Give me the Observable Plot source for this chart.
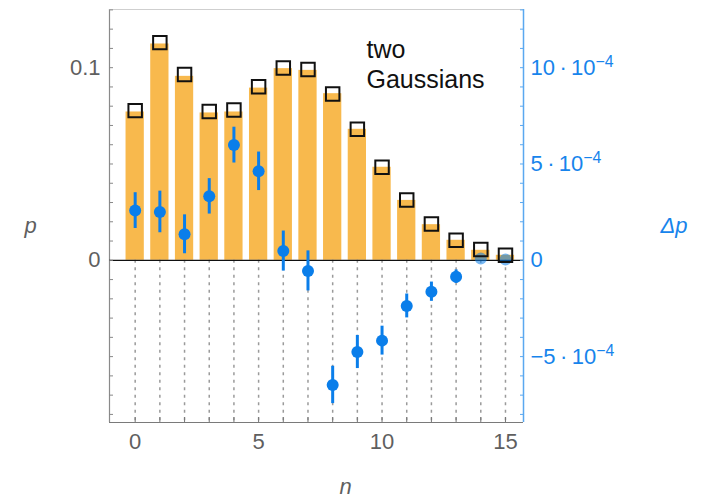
<!DOCTYPE html>
<html>
<head>
<meta charset="utf-8">
<script src="https://cdn.jsdelivr.net/npm/d3@7"></script>
<script src="https://cdn.jsdelivr.net/npm/@observablehq/plot@0.6"></script>
<style>
  html, body { margin: 0; padding: 0; background: #fff; }
  #chart svg { display: block; }
</style>
</head>
<body>
<div id="chart"></div>
<script>
// ---- data ----
const ns = [0, 1, 2, 3, 4, 5, 6, 7, 8, 9, 10, 11, 12, 13, 14, 15];
const pMeasured = [0.0770, 0.1123, 0.0955, 0.0765, 0.0770, 0.0894, 0.0995, 0.0986, 0.0865, 0.0680, 0.0483, 0.0311, 0.0185, 0.0104, 0.0052, 0.0026];
const pModel = [0.0777, 0.1130, 0.0965, 0.0772, 0.0780, 0.0901, 0.0998, 0.0991, 0.0863, 0.0680, 0.0483, 0.0313, 0.0188, 0.0104, 0.0056, 0.0026];
const deltaP = [2.58e-4, 2.51e-4, 1.35e-4, 3.32e-4, 5.98e-4, 4.62e-4, 0.48e-4, -0.55e-4, -6.47e-4, -4.76e-4, -4.17e-4, -2.37e-4, -1.63e-4, -0.85e-4, 0.09e-4, 0.04e-4];
const deltaPErr = [0.93e-4, 1.08e-4, 1.01e-4, 0.92e-4, 0.93e-4, 1.00e-4, 1.04e-4, 1.04e-4, 0.97e-4, 0.86e-4, 0.75e-4, 0.62e-4, 0.50e-4, 0.35e-4, 0, 0];
const xTicks = [0, 5, 10, 15];
const pTicks = [0, 0.1];
const pTickLabels = ["0", "0.1"];
const dpTicks = [-5e-4, 0, 5e-4, 10e-4];
const dpTickLabels = ["\u22125\u2009\u00b7\u200910^\u22124", "0", "5\u2009\u00b7\u200910^\u22124", "10\u2009\u00b7\u200910^\u22124"];
const xDomain = [-1.04, 15.73];
const yDomain = [-0.0842, 0.1302];
const dpFactor = 100; // Δp axis = p axis × 0.01
const annotation = "two\nGaussians";

const rows = ns.map((n, i) => ({n, p: pMeasured[i], m: pModel[i], dp: deltaP[i], err: deltaPErr[i]}));
const minorP = d3.range(-8, 14).map(k => k / 100);

const orange = "#F8B94D";
const blue = "#0A7EEA";
const axisBlue = "#5AA8F0";
const gray = "#5f5f5f";
const font = "Liberation Sans, Arial, Helvetica, sans-serif";

const chart = Plot.plot({
  width: 702,
  height: 498,
  marginLeft: 109,
  marginRight: 179,
  marginTop: 9,
  marginBottom: 76,
  style: {fontFamily: font, fontSize: "21px", background: "#fff"},
  x: {domain: xDomain, label: null},
  y: {domain: yDomain, label: null},
  marks: [
    // bars
    Plot.rectY(rows, {x1: d => d.n - 0.37, x2: d => d.n + 0.37, y1: 0, y2: "p", fill: orange}),
    // dashed verticals below zero
    Plot.ruleX(ns, {x: d => d, y1: 0, y2: yDomain[0], stroke: "#9a9a9a", strokeWidth: 1.5, strokeDasharray: "3,4.5"}),
    // frame lines
    Plot.ruleX([xDomain[0]], {stroke: "#8a8a8a", strokeWidth: 1.2}),
    Plot.ruleY([yDomain[1]], {stroke: "#cfcfcf", strokeWidth: 1.2}),
    Plot.ruleY([yDomain[0]], {stroke: "#7a7a7a", strokeWidth: 1.2}),
    Plot.ruleX([xDomain[1]], {stroke: axisBlue, strokeWidth: 1.5}),
    // zero line
    Plot.ruleY([0], {stroke: "#111", strokeWidth: 1.3}),
    // x axis
    Plot.axisX({ticks: ns, tickSize: 5, dy: -5, tickFormat: () => "", stroke: "#777", label: null}),
    Plot.axisX({ticks: xTicks, tickSize: 0, tickPadding: 11, tickFormat: d => String(d), fill: gray, fontSize: 22, label: null}),
    // left axis
    Plot.axisY({anchor: "left", ticks: minorP, tickSize: 4, dx: 4, tickFormat: () => "", stroke: "#888", label: null}),
    Plot.axisY({anchor: "left", ticks: pTicks, tickSize: 0, tickPadding: 9, tickFormat: d => pTickLabels[pTicks.indexOf(d)], fill: gray, fontSize: 22, label: null}),
    // right axis (Δp)
    Plot.axisY({anchor: "right", ticks: minorP, tickSize: 4, dx: -4, tickFormat: () => "", stroke: axisBlue, label: null}),
    Plot.axisY({anchor: "right", ticks: dpTicks.map(v => v * dpFactor), tickSize: 0, tickPadding: 7,
      tickFormat: d => dpTickLabels[dpTicks.findIndex(v => Math.abs(v * dpFactor - d) < 1e-9)], fill: "#1784EC", fontSize: 22, label: null}),
    // error bars and points
    Plot.ruleX(rows.filter(d => d.err > 0), {x: "n", y1: d => (d.dp - d.err) * dpFactor, y2: d => (d.dp + d.err) * dpFactor, stroke: blue, strokeWidth: 3}),
    Plot.dot(rows, {x: "n", y: d => d.dp * dpFactor, r: 6, fill: blue, fillOpacity: d => d.err > 0 ? 1 : 0.55}),
    // model squares
    Plot.dot(rows, {x: "n", y: "m", symbol: "square", r: 7.6, stroke: "#111", strokeWidth: 2, fill: "none"}),
    // annotation
    Plot.text([annotation], {frameAnchor: "top", dx: 50, dy: 28, textAnchor: "start", lineAnchor: "top", fontSize: 25, lineHeight: 1.17, fill: "#111"}),
    // axis labels
    Plot.text(["p"], {frameAnchor: "left", dx: -85, dy: 10, fontSize: 22, fontStyle: "italic", fill: gray}),
    Plot.text(["\u0394p"], {frameAnchor: "right", dx: 164, dy: 10, fontSize: 22, fontStyle: "italic", fill: "#1784EC"}),
    Plot.text(["n"], {frameAnchor: "bottom", dx: 29, dy: 71, fontSize: 22, fontStyle: "italic", fill: gray})
  ]
});

// render superscripts in right-axis labels
d3.select(chart).selectAll("text").each(function() {
  const t = this.textContent;
  if (t.includes("^")) {
    const [base, sup] = t.split("^");
    const sel = d3.select(this);
    sel.text(null);
    sel.append("tspan").text(base);
    sel.append("tspan").attr("dy", "-0.5em").attr("font-size", "0.72em").text(sup);
  }
});

document.getElementById("chart").appendChild(chart);
</script>
</body>
</html>
